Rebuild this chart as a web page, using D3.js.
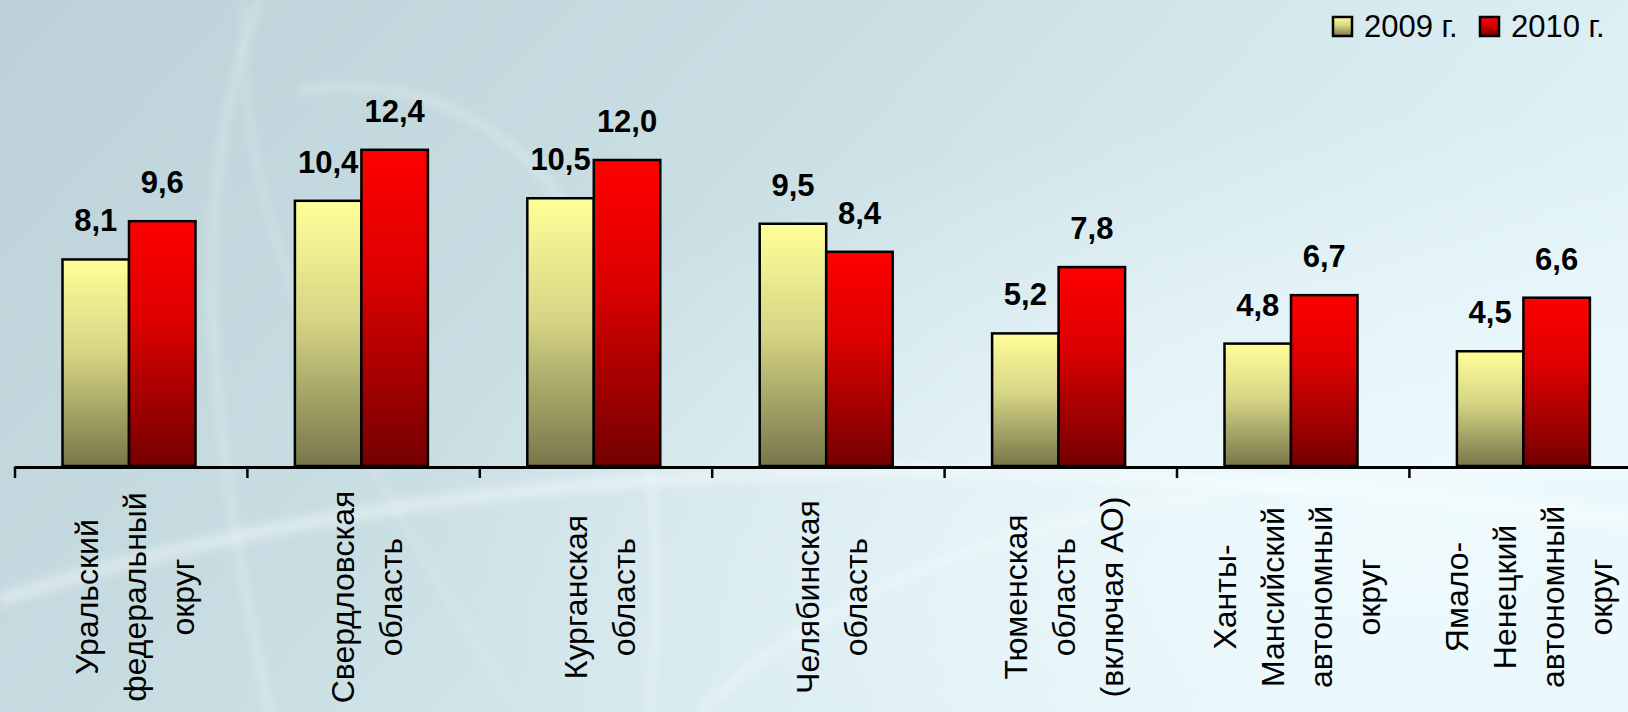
<!DOCTYPE html>
<html>
<head>
<meta charset="utf-8">
<script src="https://cdn.jsdelivr.net/npm/d3@7"></script>
<style>
  html, body { margin: 0; padding: 0; overflow: hidden; }
  svg { display: block; }
</style>
</head>
<body>
<svg id="chart" width="1628" height="712"></svg>
<script>
// ---- data ----
const categories = [
  ["Уральский", "федеральный", "округ"],
  ["Свердловская", "область"],
  ["Курганская", "область"],
  ["Челябинская", "область"],
  ["Тюменская", "область", "(включая АО)"],
  ["Ханты-", "Мансийский", "автономный", "округ"],
  ["Ямало-", "Ненецкий", "автономный", "округ"]
];
const seriesNames = ["2009 г.", "2010 г."];
const values2009 = [8.1, 10.4, 10.5, 9.5, 5.2, 4.8, 4.5];
const values2010 = [9.6, 12.4, 12.0, 8.4, 7.8, 6.7, 6.6];

// ---- setup ----
const W = 1628, H = 712;
const svg = d3.select("#chart");
const defs = svg.append("defs");

const bg = defs.append("linearGradient").attr("id", "bg").attr("x1", "0").attr("y1", "0").attr("x2", "1").attr("y2", "0.4");
bg.append("stop").attr("offset", "0").attr("stop-color", "#bcd2d8");
bg.append("stop").attr("offset", "0.45").attr("stop-color", "#c9dee3");
bg.append("stop").attr("offset", "1").attr("stop-color", "#e2f4f9");

const glow = defs.append("radialGradient").attr("id", "glow").attr("cx", "0.85").attr("cy", "0.75").attr("r", "0.6");
glow.append("stop").attr("offset", "0").attr("stop-color", "#f2fcfe").attr("stop-opacity", 0.8);
glow.append("stop").attr("offset", "1").attr("stop-color", "#f2fcfe").attr("stop-opacity", 0);

const blur = defs.append("filter").attr("id", "blur").attr("x", "-20%").attr("y", "-20%").attr("width", "140%").attr("height", "140%");
blur.append("feGaussianBlur").attr("stdDeviation", 4);

const g09 = defs.append("linearGradient").attr("id", "g09").attr("x1", 0).attr("y1", 0).attr("x2", 0).attr("y2", 1);
g09.append("stop").attr("offset", "0").attr("stop-color", "#ffff99");
g09.append("stop").attr("offset", "0.45").attr("stop-color", "#d6d585");
g09.append("stop").attr("offset", "1").attr("stop-color", "#77764a");

const g10 = defs.append("linearGradient").attr("id", "g10").attr("x1", 0).attr("y1", 0).attr("x2", 0).attr("y2", 1);
g10.append("stop").attr("offset", "0").attr("stop-color", "#ff0000");
g10.append("stop").attr("offset", "0.4").attr("stop-color", "#dd0000");
g10.append("stop").attr("offset", "1").attr("stop-color", "#740000");

const fills = ["url(#g09)", "url(#g10)"];

// background
svg.append("rect").attr("width", W).attr("height", H).attr("fill", "url(#bg)");
svg.append("rect").attr("width", W).attr("height", H).attr("fill", "url(#glow)");
const swirl = svg.append("g").attr("filter", "url(#blur)").attr("fill", "none").attr("stroke", "#ffffff");
swirl.append("path").attr("d", "M260,0 C200,150 190,350 270,712").attr("stroke-width", 5).attr("stroke-opacity", 0.35);
swirl.append("path").attr("d", "M245,0 C230,200 330,420 520,712").attr("stroke-width", 4).attr("stroke-opacity", 0.25);
swirl.append("path").attr("d", "M300,90 C520,60 690,250 650,712").attr("stroke-width", 6).attr("stroke-opacity", 0.3);
swirl.append("path").attr("d", "M0,600 C400,470 900,430 1628,520").attr("stroke-width", 14).attr("stroke-opacity", 0.35);
swirl.append("path").attr("d", "M700,712 C900,520 1200,470 1628,470").attr("stroke-width", 10).attr("stroke-opacity", 0.3);

// ---- scales ----
const x0 = d3.scaleBand().domain(d3.range(categories.length)).range([14.5, 14.5 + 7 * 232.4]).padding(0);
const x1 = d3.scaleBand().domain(seriesNames).range([48, 48 + 133]).padding(0);
const y = d3.scaleLinear().domain([0, 14]).range([466, 466 - 14 * 25.5]);

const fmt = d3.formatLocale({ decimal: ",", thousands: " ", grouping: [3], currency: ["", ""] }).format(".1f");

const rows = categories.map((c, i) => ({ i, vals: [values2009[i], values2010[i]] }));

// bars
const groups = svg.append("g").selectAll("g").data(rows).join("g")
  .attr("transform", d => `translate(${x0(d.i)},0)`);

groups.selectAll("rect").data(d => d.vals.map((v, k) => ({ v, k }))).join("rect")
  .attr("x", d => x1(seriesNames[d.k]))
  .attr("y", d => y(d.v))
  .attr("width", x1.bandwidth())
  .attr("height", d => y(0) - y(d.v))
  .attr("fill", d => fills[d.k])
  .attr("stroke", "#000")
  .attr("stroke-width", 2.5);

groups.selectAll("text").data(d => d.vals.map((v, k) => ({ v, k }))).join("text")
  .attr("x", d => x1(seriesNames[d.k]) + x1.bandwidth() / 2)
  .attr("y", d => y(d.v) - 28)
  .attr("text-anchor", "middle")
  .attr("font-family", "'Liberation Sans', Arial, sans-serif")
  .attr("font-weight", "bold")
  .attr("font-size", 31)
  .attr("fill", "#000")
  .text(d => fmt(d.v));

// axis
const axis = d3.axisBottom(d3.scaleLinear().domain([0, W]).range([0, W]))
  .tickValues(d3.range(categories.length).map(i => x0(i)))
  .tickSize(11)
  .tickFormat("");
const axG = svg.append("g").attr("transform", `translate(0,${y(0) + 1})`).call(axis);
axG.select(".domain").remove();
axG.selectAll(".tick line").attr("stroke", "#000").attr("stroke-width", 2.5);
svg.append("line")
  .attr("x1", x0(0)).attr("x2", W)
  .attr("y1", y(0) + 1.5).attr("y2", y(0) + 1.5)
  .attr("stroke", "#000").attr("stroke-width", 3);

// category labels (rotated)
const pitch = 48;
const labG = svg.append("g").selectAll("g").data(categories.map((lines, i) => ({ lines, i }))).join("g")
  .attr("transform", d => `translate(${x0(d.i) + x0.bandwidth() / 2 + 4},597) rotate(-90)`);
labG.selectAll("text").data(d => d.lines.map((t, j) => ({ t, j, n: d.lines.length }))).join("text")
  .attr("x", 0)
  .attr("y", d => (d.j - (d.n - 1) / 2) * pitch)
  .attr("text-anchor", "middle")
  .attr("dominant-baseline", "central")
  .attr("font-family", "'Liberation Sans', Arial, sans-serif")
  .attr("font-size", 32)
  .attr("fill", "#000")
  .text(d => d.t);

// legend
const legendPos = [1333, 1480];
const lg = svg.append("g").selectAll("g").data(seriesNames).join("g")
  .attr("transform", (d, i) => `translate(${legendPos[i]},17)`);
lg.append("rect").attr("width", 19).attr("height", 19)
  .attr("fill", (d, i) => fills[i]).attr("stroke", "#000").attr("stroke-width", 2.5);
lg.append("text").attr("x", 31).attr("y", 19.5)
  .attr("font-family", "'Liberation Sans', Arial, sans-serif")
  .attr("font-size", 31).attr("fill", "#000")
  .text(d => d);
</script>
</body>
</html>
